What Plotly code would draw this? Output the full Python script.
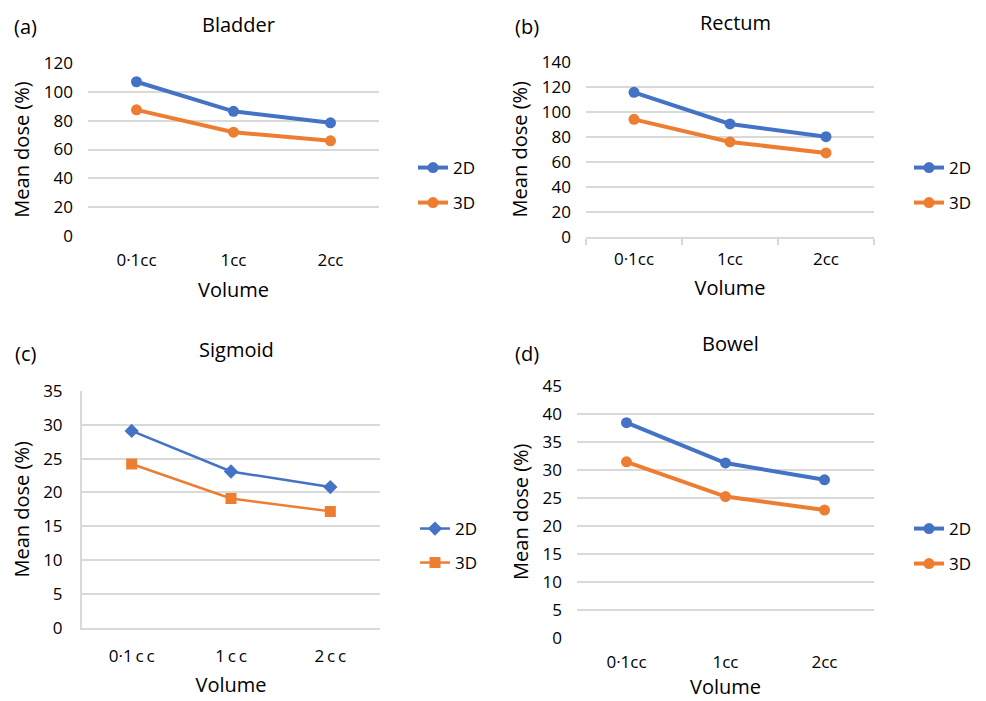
import plotly.graph_objects as go

W, H = 986, 701
OFF = 8  # page body margin offset

categories = ["0·1cc", "1cc", "2cc"]
categories_sigmoid = ["0·1\u2009c\u2009c", "1\u2009c\u2009c", "2\u2009c\u2009c"]

bladder_2d = [107, 86.5, 78.5]
bladder_3d = [87.5, 72, 66]
rectum_2d = [115.5, 90.2, 80]
rectum_3d = [93.9, 75.8, 67]
sigmoid_2d = [29.1, 23.1, 20.8]
sigmoid_3d = [24.2, 19.1, 17.2]
bowel_2d = [38.4, 31.2, 28.2]
bowel_3d = [31.4, 25.2, 22.8]

titles = ["Bladder", "Rectum", "Sigmoid", "Bowel"]
labels = ["(a)", "(b)", "(c)", "(d)"]
series_names = ["2D", "3D"]

BLUE = "#4472C4"
ORANGE = "#ED7D31"
GRID = "#D9D9D9"
FONT = "Open Sans"

def px_x(v):
    return (v - OFF) / W

def px_y(v):
    return 1 - (v - OFF) / H

# plot areas in pixels: (left, right, top, bottom)
areas = [(88, 379, 63, 236), (586, 874, 61.7, 236.7), (82, 380, 391, 627.7), (577, 874, 385.7, 637.7)]
yranges = [(0, 120, 20), (0, 140, 20), (0, 35, 5), (0, 45, 5)]
xtitle_standoff = [12, 12, 12, 7]

fig = go.Figure()

panels = [
    (categories, bladder_2d, bladder_3d),
    (categories, rectum_2d, rectum_3d),
    (categories_sigmoid, sigmoid_2d, sigmoid_3d),
    (categories, bowel_2d, bowel_3d),
]

legend_pos = [(168, 203), (168, 203), (529, 563), (529, 564)]
legend_x = [413, 909, 415, 909]

layout = dict(
    width=W, height=H,
    margin=dict(l=0, r=0, t=0, b=0),
    paper_bgcolor="white", plot_bgcolor="white",
    font=dict(family=FONT, color="black", size=16),
    showlegend=True,
)

TICK = 17
TITLE = 20

annotations = []
leg_idx = 0
for i, (cats, s2, s3) in enumerate(panels):
    l, r, t, b = areas[i]
    ax = "" if i == 0 else str(i + 1)
    xa = "x" + ax
    ya = "y" + ax
    sig = (i == 2)
    lw = 2.5 if sig else 4
    syms = ["diamond", "square"] if sig else ["circle", "circle"]
    for k, (vals, col) in enumerate([(s2, BLUE), (s3, ORANGE)]):
        leg_idx += 1
        lname = "legend" if leg_idx == 1 else "legend%d" % leg_idx
        fig.add_trace(go.Scatter(
            x=cats, y=vals, name=series_names[k], mode="lines+markers",
            line=dict(color=col, width=lw),
            marker=dict(color=col, size=11, symbol=syms[k]),
            xaxis=xa, yaxis=ya, legend=lname,
        ))
        layout[lname] = dict(
            x=px_x(legend_x[i]), y=px_y(legend_pos[i][k]),
            xanchor="left", yanchor="middle",
            font=dict(family=FONT, size=TICK, color="black"),
            bgcolor="rgba(0,0,0,0)", itemwidth=30,
        )
    y0, y1, dt = yranges[i]
    show_xline = i in (1, 2)
    show_yline = (i == 2)
    layout["xaxis" + ax] = dict(
        domain=[px_x(l), px_x(r)], anchor=ya,
        type="category", range=[-0.5, 2.5],
        showgrid=False, zeroline=False,
        showline=show_xline, linecolor=GRID, linewidth=2,
        ticks="outside" if i == 1 else "", tickson="boundaries",
        ticklen=6, tickcolor=GRID, tickwidth=2,
        tickfont=dict(family=FONT, size=TICK, color="black"),
        ticklabelstandoff=12 if i != 1 else 6,
        title=dict(text="Volume", font=dict(family=FONT, size=TITLE, color="black"),
                   standoff=xtitle_standoff[i]),
        automargin=False,
        fixedrange=True,
    )
    layout["yaxis" + ax] = dict(
        domain=[px_y(b), px_y(t)], anchor=xa,
        range=[y0, y1], dtick=dt, tick0=0,
        showgrid=True, gridcolor=GRID, gridwidth=1.5,
        zeroline=False, showline=show_yline, linecolor=GRID, linewidth=2,
        tickfont=dict(family=FONT, size=TICK, color="black"),
        ticklabelstandoff=14,
        title=dict(text="Mean dose (%)", font=dict(family=FONT, size=TITLE, color="black"), standoff=8),
        automargin=False,
        fixedrange=True,
    )
    annotations.append(dict(
        text=titles[i], xref="paper", yref="paper",
        x=px_x((l + r) / 2 + 5), y=px_y(t - 39 if i < 2 else t - 42),
        xanchor="center", yanchor="middle", showarrow=False,
        font=dict(family=FONT, size=TITLE, color="black"),
    ))

label_pos = [(25, 27), (527, 27), (25, 353), (527, 354)]
for i, (lx, ly) in enumerate(label_pos):
    annotations.append(dict(
        text=labels[i], xref="paper", yref="paper",
        x=px_x(lx), y=px_y(ly), xanchor="center", yanchor="middle",
        showarrow=False, font=dict(family=FONT, size=TITLE, color="black"),
    ))

layout["annotations"] = annotations
fig.update_layout(**layout)

fig.write_html("out.html")
